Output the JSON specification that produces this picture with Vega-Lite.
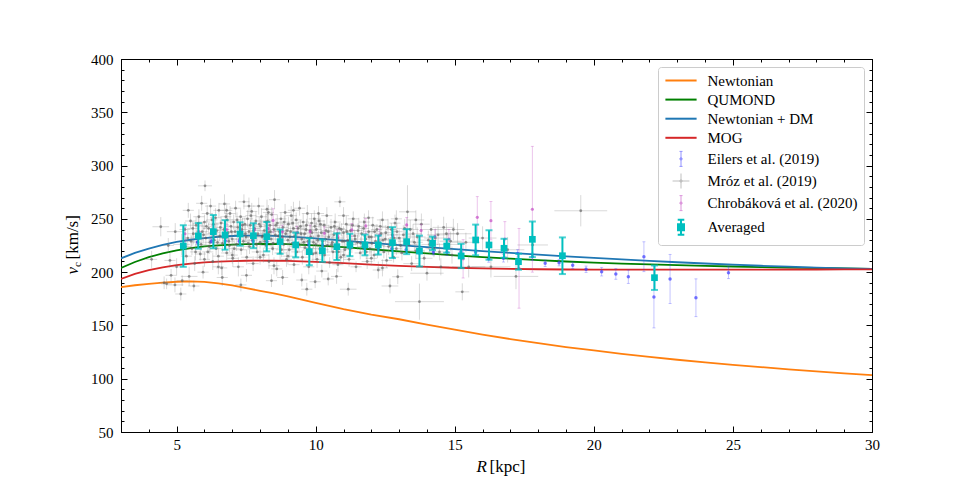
{
  "$schema": "https://vega.github.io/schema/vega-lite/v6.json",
  "width": 751,
  "height": 373,
  "autosize": {"type": "none"},
  "padding": {"left": 121, "top": 59, "right": 97, "bottom": 53},
  "background": "white",
  "datasets": {
    "curves": [
      {"series": "Newtonian", "R": 3, "v": 186}, {"series": "Newtonian", "R": 3.5, "v": 187.7}, {"series": "Newtonian", "R": 4, "v": 189}, {"series": "Newtonian", "R": 4.5, "v": 190.2}, {"series": "Newtonian", "R": 5, "v": 191}, {"series": "Newtonian", "R": 5.5, "v": 191.3}, {"series": "Newtonian", "R": 6, "v": 190.8}, {"series": "Newtonian", "R": 6.5, "v": 189.5}, {"series": "Newtonian", "R": 7, "v": 187.5}, {"series": "Newtonian", "R": 7.5, "v": 185}, {"series": "Newtonian", "R": 8, "v": 182.5}, {"series": "Newtonian", "R": 8.5, "v": 180}, {"series": "Newtonian", "R": 9, "v": 177.3}, {"series": "Newtonian", "R": 9.5, "v": 174.3}, {"series": "Newtonian", "R": 10, "v": 171.2}, {"series": "Newtonian", "R": 11, "v": 165.3}, {"series": "Newtonian", "R": 12, "v": 160.2}, {"series": "Newtonian", "R": 13, "v": 155.8}, {"series": "Newtonian", "R": 14, "v": 150.8}, {"series": "Newtonian", "R": 15, "v": 146}, {"series": "Newtonian", "R": 16, "v": 141.4}, {"series": "Newtonian", "R": 17, "v": 137.2}, {"series": "Newtonian", "R": 18, "v": 133.3}, {"series": "Newtonian", "R": 19, "v": 129.7}, {"series": "Newtonian", "R": 20, "v": 126.5}, {"series": "Newtonian", "R": 21, "v": 123.4}, {"series": "Newtonian", "R": 22, "v": 120.5}, {"series": "Newtonian", "R": 23, "v": 117.8}, {"series": "Newtonian", "R": 24, "v": 115.3}, {"series": "Newtonian", "R": 25, "v": 113}, {"series": "Newtonian", "R": 26, "v": 110.9}, {"series": "Newtonian", "R": 27, "v": 108.8}, {"series": "Newtonian", "R": 28, "v": 106.9}, {"series": "Newtonian", "R": 29, "v": 105.1}, {"series": "Newtonian", "R": 30, "v": 103.3},
      {"series": "QUMOND", "R": 3, "v": 204}, {"series": "QUMOND", "R": 3.5, "v": 209.5}, {"series": "QUMOND", "R": 4, "v": 214}, {"series": "QUMOND", "R": 4.5, "v": 217.6}, {"series": "QUMOND", "R": 5, "v": 220.5}, {"series": "QUMOND", "R": 5.5, "v": 222.6}, {"series": "QUMOND", "R": 6, "v": 224.1}, {"series": "QUMOND", "R": 6.5, "v": 225.1}, {"series": "QUMOND", "R": 7, "v": 225.8}, {"series": "QUMOND", "R": 7.5, "v": 226.2}, {"series": "QUMOND", "R": 8, "v": 226.4}, {"series": "QUMOND", "R": 8.5, "v": 226.4}, {"series": "QUMOND", "R": 9, "v": 226.2}, {"series": "QUMOND", "R": 9.5, "v": 225.7}, {"series": "QUMOND", "R": 10, "v": 225.1}, {"series": "QUMOND", "R": 11, "v": 223.4}, {"series": "QUMOND", "R": 12, "v": 221.5}, {"series": "QUMOND", "R": 13, "v": 219.5}, {"series": "QUMOND", "R": 14, "v": 217.6}, {"series": "QUMOND", "R": 15, "v": 215.8}, {"series": "QUMOND", "R": 16, "v": 214.1}, {"series": "QUMOND", "R": 17, "v": 212.6}, {"series": "QUMOND", "R": 18, "v": 211.2}, {"series": "QUMOND", "R": 19, "v": 210}, {"series": "QUMOND", "R": 20, "v": 208.9}, {"series": "QUMOND", "R": 21, "v": 208}, {"series": "QUMOND", "R": 22, "v": 207.2}, {"series": "QUMOND", "R": 23, "v": 206.5}, {"series": "QUMOND", "R": 24, "v": 205.9}, {"series": "QUMOND", "R": 25, "v": 205.3}, {"series": "QUMOND", "R": 26, "v": 204.8}, {"series": "QUMOND", "R": 27, "v": 204.3}, {"series": "QUMOND", "R": 28, "v": 203.9}, {"series": "QUMOND", "R": 29, "v": 203.5}, {"series": "QUMOND", "R": 30, "v": 203.1},
      {"series": "Newtonian + DM", "R": 3, "v": 213}, {"series": "Newtonian + DM", "R": 3.5, "v": 218}, {"series": "Newtonian + DM", "R": 4, "v": 222}, {"series": "Newtonian + DM", "R": 4.5, "v": 225.5}, {"series": "Newtonian + DM", "R": 5, "v": 228.3}, {"series": "Newtonian + DM", "R": 5.5, "v": 230.4}, {"series": "Newtonian + DM", "R": 6, "v": 232}, {"series": "Newtonian + DM", "R": 6.5, "v": 233.2}, {"series": "Newtonian + DM", "R": 7, "v": 233.9}, {"series": "Newtonian + DM", "R": 7.5, "v": 234.3}, {"series": "Newtonian + DM", "R": 8, "v": 234.3}, {"series": "Newtonian + DM", "R": 8.5, "v": 234}, {"series": "Newtonian + DM", "R": 9, "v": 233.4}, {"series": "Newtonian + DM", "R": 9.5, "v": 232.6}, {"series": "Newtonian + DM", "R": 10, "v": 231.6}, {"series": "Newtonian + DM", "R": 11, "v": 229.5}, {"series": "Newtonian + DM", "R": 12, "v": 227.4}, {"series": "Newtonian + DM", "R": 13, "v": 225.4}, {"series": "Newtonian + DM", "R": 14, "v": 223.5}, {"series": "Newtonian + DM", "R": 15, "v": 221.6}, {"series": "Newtonian + DM", "R": 16, "v": 219.8}, {"series": "Newtonian + DM", "R": 17, "v": 218.1}, {"series": "Newtonian + DM", "R": 18, "v": 216.4}, {"series": "Newtonian + DM", "R": 19, "v": 214.8}, {"series": "Newtonian + DM", "R": 20, "v": 213.3}, {"series": "Newtonian + DM", "R": 21, "v": 211.9}, {"series": "Newtonian + DM", "R": 22, "v": 210.6}, {"series": "Newtonian + DM", "R": 23, "v": 209.3}, {"series": "Newtonian + DM", "R": 24, "v": 208.1}, {"series": "Newtonian + DM", "R": 25, "v": 207}, {"series": "Newtonian + DM", "R": 26, "v": 206}, {"series": "Newtonian + DM", "R": 27, "v": 205.1}, {"series": "Newtonian + DM", "R": 28, "v": 204.3}, {"series": "Newtonian + DM", "R": 29, "v": 203.6}, {"series": "Newtonian + DM", "R": 30, "v": 203},
      {"series": "MOG", "R": 3, "v": 193.6}, {"series": "MOG", "R": 3.5, "v": 198.3}, {"series": "MOG", "R": 4, "v": 201.8}, {"series": "MOG", "R": 4.5, "v": 204.5}, {"series": "MOG", "R": 5, "v": 206.5}, {"series": "MOG", "R": 5.5, "v": 208}, {"series": "MOG", "R": 6, "v": 209.1}, {"series": "MOG", "R": 6.5, "v": 209.9}, {"series": "MOG", "R": 7, "v": 210.4}, {"series": "MOG", "R": 7.5, "v": 210.7}, {"series": "MOG", "R": 8, "v": 210.8}, {"series": "MOG", "R": 8.5, "v": 210.7}, {"series": "MOG", "R": 9, "v": 210.5}, {"series": "MOG", "R": 9.5, "v": 210.1}, {"series": "MOG", "R": 10, "v": 209.6}, {"series": "MOG", "R": 11, "v": 208.4}, {"series": "MOG", "R": 12, "v": 207.1}, {"series": "MOG", "R": 13, "v": 205.9}, {"series": "MOG", "R": 14, "v": 204.9}, {"series": "MOG", "R": 15, "v": 204.1}, {"series": "MOG", "R": 16, "v": 203.5}, {"series": "MOG", "R": 17, "v": 203}, {"series": "MOG", "R": 18, "v": 202.7}, {"series": "MOG", "R": 19, "v": 202.5}, {"series": "MOG", "R": 20, "v": 202.4}, {"series": "MOG", "R": 21, "v": 202.3}, {"series": "MOG", "R": 22, "v": 202.3}, {"series": "MOG", "R": 23, "v": 202.3}, {"series": "MOG", "R": 24, "v": 202.3}, {"series": "MOG", "R": 25, "v": 202.4}, {"series": "MOG", "R": 26, "v": 202.4}, {"series": "MOG", "R": 27, "v": 202.5}, {"series": "MOG", "R": 28, "v": 202.5}, {"series": "MOG", "R": 29, "v": 202.6}, {"series": "MOG", "R": 30, "v": 202.6}
    ],
    "mroz": [
      {"R": 4.1, "v": 212, "eR": 0.2, "ev": 8}, {"R": 4.43, "v": 242.6, "eR": 0.3, "ev": 9}, {"R": 4.55, "v": 190, "eR": 0.2, "ev": 6}, {"R": 4.64, "v": 189, "eR": 0.2, "ev": 5}, {"R": 4.7, "v": 225, "eR": 0.2, "ev": 7}, {"R": 4.76, "v": 211, "eR": 0.2, "ev": 7}, {"R": 4.8, "v": 197, "eR": 0.2, "ev": 6}, {"R": 4.94, "v": 188, "eR": 0.3, "ev": 7}, {"R": 4.95, "v": 238, "eR": 0.3, "ev": 8}, {"R": 5.0, "v": 205, "eR": 0.2, "ev": 8},
      {"R": 5.15, "v": 179.5, "eR": 0.2, "ev": 6}, {"R": 5.18, "v": 226, "eR": 0.3, "ev": 10}, {"R": 5.2, "v": 192, "eR": 0.2, "ev": 5}, {"R": 5.3, "v": 240, "eR": 0.2, "ev": 7}, {"R": 5.32, "v": 224, "eR": 0.2, "ev": 9}, {"R": 5.35, "v": 215, "eR": 0.2, "ev": 6}, {"R": 5.4, "v": 232, "eR": 0.2, "ev": 8}, {"R": 5.42, "v": 258, "eR": 0.2, "ev": 7}, {"R": 5.45, "v": 196, "eR": 0.3, "ev": 9}, {"R": 5.5, "v": 248, "eR": 0.2, "ev": 7},
      {"R": 5.55, "v": 222, "eR": 0.2, "ev": 6}, {"R": 5.6, "v": 236, "eR": 0.2, "ev": 10}, {"R": 5.62, "v": 187, "eR": 0.2, "ev": 5}, {"R": 5.65, "v": 208, "eR": 0.2, "ev": 7}, {"R": 5.7, "v": 244, "eR": 0.3, "ev": 8}, {"R": 5.75, "v": 228, "eR": 0.2, "ev": 6}, {"R": 5.8, "v": 252, "eR": 0.2, "ev": 7}, {"R": 5.85, "v": 217, "eR": 0.2, "ev": 6}, {"R": 5.9, "v": 264.6, "eR": 0.2, "ev": 7}, {"R": 5.92, "v": 238, "eR": 0.2, "ev": 9},
      {"R": 5.95, "v": 200, "eR": 0.2, "ev": 6}, {"R": 6.0, "v": 247, "eR": 0.2, "ev": 7}, {"R": 6.02, "v": 281, "eR": 0.25, "ev": 5}, {"R": 6.05, "v": 232, "eR": 0.2, "ev": 6}, {"R": 6.1, "v": 255, "eR": 0.2, "ev": 8}, {"R": 6.12, "v": 219, "eR": 0.2, "ev": 7}, {"R": 6.15, "v": 241, "eR": 0.2, "ev": 5}, {"R": 6.2, "v": 228, "eR": 0.2, "ev": 9}, {"R": 6.22, "v": 262, "eR": 0.2, "ev": 7}, {"R": 6.25, "v": 236, "eR": 0.2, "ev": 6},
      {"R": 6.3, "v": 210, "eR": 0.2, "ev": 8}, {"R": 6.32, "v": 245, "eR": 0.2, "ev": 6}, {"R": 6.35, "v": 230, "eR": 0.2, "ev": 5}, {"R": 6.4, "v": 251, "eR": 0.2, "ev": 9}, {"R": 6.42, "v": 222, "eR": 0.2, "ev": 6}, {"R": 6.45, "v": 239, "eR": 0.2, "ev": 7}, {"R": 6.5, "v": 215, "eR": 0.2, "ev": 8}, {"R": 6.52, "v": 258, "eR": 0.2, "ev": 7}, {"R": 6.55, "v": 234, "eR": 0.2, "ev": 5}, {"R": 6.6, "v": 246, "eR": 0.2, "ev": 6},
      {"R": 6.62, "v": 204, "eR": 0.2, "ev": 7}, {"R": 6.64, "v": 195, "eR": 0.2, "ev": 8}, {"R": 6.65, "v": 227, "eR": 0.2, "ev": 8}, {"R": 6.7, "v": 240, "eR": 0.2, "ev": 6}, {"R": 6.72, "v": 264, "eR": 0.2, "ev": 9}, {"R": 6.75, "v": 232, "eR": 0.2, "ev": 5}, {"R": 6.8, "v": 218, "eR": 0.2, "ev": 7}, {"R": 6.82, "v": 249, "eR": 0.2, "ev": 6}, {"R": 6.85, "v": 237, "eR": 0.2, "ev": 8}, {"R": 6.9, "v": 225, "eR": 0.2, "ev": 6},
      {"R": 6.92, "v": 255, "eR": 0.2, "ev": 7}, {"R": 6.95, "v": 243, "eR": 0.2, "ev": 5}, {"R": 7.0, "v": 231, "eR": 0.2, "ev": 6}, {"R": 7.02, "v": 213, "eR": 0.2, "ev": 8}, {"R": 7.05, "v": 247, "eR": 0.2, "ev": 7}, {"R": 7.1, "v": 238, "eR": 0.2, "ev": 5}, {"R": 7.12, "v": 260, "eR": 0.2, "ev": 7}, {"R": 7.15, "v": 226, "eR": 0.2, "ev": 6}, {"R": 7.2, "v": 242, "eR": 0.2, "ev": 8}, {"R": 7.22, "v": 205, "eR": 0.2, "ev": 9},
      {"R": 7.25, "v": 235, "eR": 0.2, "ev": 6}, {"R": 7.3, "v": 252, "eR": 0.2, "ev": 7}, {"R": 7.31, "v": 188, "eR": 0.2, "ev": 6}, {"R": 7.32, "v": 221, "eR": 0.2, "ev": 5}, {"R": 7.35, "v": 240, "eR": 0.2, "ev": 6}, {"R": 7.4, "v": 229, "eR": 0.2, "ev": 8}, {"R": 7.42, "v": 266, "eR": 0.2, "ev": 7}, {"R": 7.45, "v": 245, "eR": 0.2, "ev": 6}, {"R": 7.5, "v": 233, "eR": 0.2, "ev": 5}, {"R": 7.51, "v": 197, "eR": 0.2, "ev": 6},
      {"R": 7.52, "v": 214, "eR": 0.2, "ev": 7}, {"R": 7.55, "v": 250, "eR": 0.2, "ev": 8}, {"R": 7.6, "v": 238, "eR": 0.2, "ev": 6}, {"R": 7.62, "v": 224, "eR": 0.2, "ev": 7}, {"R": 7.65, "v": 244, "eR": 0.2, "ev": 5}, {"R": 7.7, "v": 257, "eR": 0.2, "ev": 8}, {"R": 7.72, "v": 230, "eR": 0.2, "ev": 6}, {"R": 7.75, "v": 208, "eR": 0.2, "ev": 7}, {"R": 7.8, "v": 241, "eR": 0.2, "ev": 6}, {"R": 7.82, "v": 235, "eR": 0.2, "ev": 5},
      {"R": 7.85, "v": 248, "eR": 0.2, "ev": 9}, {"R": 7.9, "v": 219, "eR": 0.2, "ev": 7}, {"R": 7.92, "v": 236, "eR": 0.2, "ev": 6}, {"R": 7.95, "v": 262, "eR": 0.2, "ev": 8}, {"R": 8.0, "v": 228, "eR": 0.2, "ev": 6}, {"R": 8.02, "v": 243, "eR": 0.2, "ev": 7}, {"R": 8.05, "v": 252, "eR": 0.2, "ev": 8}, {"R": 8.1, "v": 234, "eR": 0.2, "ev": 5}, {"R": 8.12, "v": 216, "eR": 0.2, "ev": 7}, {"R": 8.15, "v": 239, "eR": 0.2, "ev": 6},
      {"R": 8.2, "v": 247, "eR": 0.2, "ev": 8}, {"R": 8.22, "v": 225, "eR": 0.2, "ev": 6}, {"R": 8.25, "v": 259, "eR": 0.2, "ev": 9}, {"R": 8.3, "v": 237, "eR": 0.2, "ev": 5}, {"R": 8.32, "v": 210, "eR": 0.2, "ev": 7}, {"R": 8.35, "v": 244, "eR": 0.2, "ev": 6}, {"R": 8.4, "v": 231, "eR": 0.2, "ev": 8}, {"R": 8.41, "v": 192, "eR": 0.2, "ev": 6}, {"R": 8.42, "v": 254, "eR": 0.2, "ev": 7}, {"R": 8.45, "v": 222, "eR": 0.2, "ev": 6},
      {"R": 8.5, "v": 240, "eR": 0.2, "ev": 5}, {"R": 8.52, "v": 268, "eR": 0.2, "ev": 9}, {"R": 8.55, "v": 235, "eR": 0.2, "ev": 6}, {"R": 8.6, "v": 203, "eR": 0.2, "ev": 7}, {"R": 8.62, "v": 246, "eR": 0.2, "ev": 8}, {"R": 8.65, "v": 228, "eR": 0.2, "ev": 6}, {"R": 8.7, "v": 238, "eR": 0.2, "ev": 5}, {"R": 8.72, "v": 218, "eR": 0.2, "ev": 7}, {"R": 8.75, "v": 250, "eR": 0.2, "ev": 6}, {"R": 8.8, "v": 233, "eR": 0.2, "ev": 8},
      {"R": 8.81, "v": 195, "eR": 0.2, "ev": 7}, {"R": 8.82, "v": 242, "eR": 0.2, "ev": 6}, {"R": 8.85, "v": 226, "eR": 0.2, "ev": 7}, {"R": 8.9, "v": 256, "eR": 0.2, "ev": 8}, {"R": 8.92, "v": 236, "eR": 0.2, "ev": 5}, {"R": 8.95, "v": 212, "eR": 0.2, "ev": 7}, {"R": 9.0, "v": 230, "eR": 0.2, "ev": 6}, {"R": 9.02, "v": 245, "eR": 0.2, "ev": 7}, {"R": 9.05, "v": 221, "eR": 0.2, "ev": 8}, {"R": 9.1, "v": 238, "eR": 0.2, "ev": 5},
      {"R": 9.12, "v": 253, "eR": 0.2, "ev": 9}, {"R": 9.15, "v": 227, "eR": 0.2, "ev": 6}, {"R": 9.2, "v": 241, "eR": 0.2, "ev": 7}, {"R": 9.22, "v": 207, "eR": 0.2, "ev": 8}, {"R": 9.25, "v": 234, "eR": 0.2, "ev": 6}, {"R": 9.3, "v": 249, "eR": 0.2, "ev": 7}, {"R": 9.32, "v": 219, "eR": 0.2, "ev": 5}, {"R": 9.35, "v": 237, "eR": 0.2, "ev": 6}, {"R": 9.4, "v": 226, "eR": 0.2, "ev": 8}, {"R": 9.42, "v": 260, "eR": 0.2, "ev": 7},
      {"R": 9.45, "v": 243, "eR": 0.2, "ev": 6}, {"R": 9.5, "v": 231, "eR": 0.2, "ev": 5}, {"R": 9.5, "v": 192.6, "eR": 0.2, "ev": 6}, {"R": 9.52, "v": 214, "eR": 0.2, "ev": 7}, {"R": 9.55, "v": 247, "eR": 0.2, "ev": 8}, {"R": 9.6, "v": 236, "eR": 0.2, "ev": 6}, {"R": 9.62, "v": 223, "eR": 0.2, "ev": 7}, {"R": 9.65, "v": 240, "eR": 0.2, "ev": 5}, {"R": 9.68, "v": 184, "eR": 0.2, "ev": 6}, {"R": 9.7, "v": 255, "eR": 0.2, "ev": 8},
      {"R": 9.72, "v": 229, "eR": 0.2, "ev": 6}, {"R": 9.75, "v": 205, "eR": 0.2, "ev": 7}, {"R": 9.8, "v": 239, "eR": 0.2, "ev": 6}, {"R": 9.82, "v": 233, "eR": 0.2, "ev": 5}, {"R": 9.85, "v": 246, "eR": 0.2, "ev": 9}, {"R": 9.9, "v": 217, "eR": 0.2, "ev": 7}, {"R": 9.92, "v": 228, "eR": 0.2, "ev": 6}, {"R": 9.95, "v": 250, "eR": 0.2, "ev": 8}, {"R": 9.98, "v": 191, "eR": 0.2, "ev": 6}, {"R": 10.0, "v": 226, "eR": 0.2, "ev": 6},
      {"R": 10.02, "v": 240, "eR": 0.2, "ev": 7}, {"R": 10.05, "v": 212, "eR": 0.2, "ev": 8}, {"R": 10.1, "v": 234, "eR": 0.2, "ev": 5}, {"R": 10.12, "v": 248, "eR": 0.2, "ev": 7}, {"R": 10.15, "v": 222, "eR": 0.2, "ev": 6}, {"R": 10.2, "v": 237, "eR": 0.2, "ev": 8}, {"R": 10.22, "v": 201, "eR": 0.2, "ev": 6}, {"R": 10.25, "v": 229, "eR": 0.2, "ev": 9}, {"R": 10.3, "v": 244, "eR": 0.2, "ev": 5}, {"R": 10.32, "v": 216, "eR": 0.2, "ev": 7},
      {"R": 10.35, "v": 231, "eR": 0.2, "ev": 6}, {"R": 10.4, "v": 253, "eR": 0.2, "ev": 8}, {"R": 10.42, "v": 225, "eR": 0.2, "ev": 7}, {"R": 10.45, "v": 238, "eR": 0.2, "ev": 6}, {"R": 10.45, "v": 193.6, "eR": 0.2, "ev": 6}, {"R": 10.5, "v": 209, "eR": 0.2, "ev": 5}, {"R": 10.55, "v": 242, "eR": 0.2, "ev": 8}, {"R": 10.6, "v": 228, "eR": 0.2, "ev": 6}, {"R": 10.62, "v": 219, "eR": 0.2, "ev": 7}, {"R": 10.65, "v": 235, "eR": 0.2, "ev": 5},
      {"R": 10.7, "v": 247, "eR": 0.2, "ev": 8}, {"R": 10.72, "v": 224, "eR": 0.2, "ev": 6}, {"R": 10.75, "v": 196, "eR": 0.2, "ev": 7}, {"R": 10.8, "v": 232, "eR": 0.2, "ev": 6}, {"R": 10.85, "v": 241, "eR": 0.2, "ev": 5}, {"R": 10.87, "v": 266, "eR": 0.2, "ev": 5}, {"R": 10.9, "v": 214, "eR": 0.2, "ev": 7}, {"R": 10.95, "v": 229, "eR": 0.2, "ev": 6}, {"R": 11.0, "v": 237, "eR": 0.2, "ev": 6}, {"R": 11.05, "v": 221, "eR": 0.2, "ev": 7},
      {"R": 11.1, "v": 245, "eR": 0.2, "ev": 8}, {"R": 11.15, "v": 230, "eR": 0.2, "ev": 5}, {"R": 11.17, "v": 184, "eR": 0.3, "ev": 6}, {"R": 11.2, "v": 212, "eR": 0.2, "ev": 7}, {"R": 11.25, "v": 239, "eR": 0.2, "ev": 6}, {"R": 11.3, "v": 226, "eR": 0.2, "ev": 8}, {"R": 11.35, "v": 250, "eR": 0.2, "ev": 7}, {"R": 11.4, "v": 234, "eR": 0.2, "ev": 6}, {"R": 11.45, "v": 205, "eR": 0.2, "ev": 5}, {"R": 11.5, "v": 228, "eR": 0.2, "ev": 7},
      {"R": 11.55, "v": 243, "eR": 0.2, "ev": 8}, {"R": 11.6, "v": 218, "eR": 0.2, "ev": 6}, {"R": 11.65, "v": 236, "eR": 0.2, "ev": 7}, {"R": 11.7, "v": 224, "eR": 0.2, "ev": 5}, {"R": 11.75, "v": 247, "eR": 0.2, "ev": 8}, {"R": 11.8, "v": 231, "eR": 0.2, "ev": 6}, {"R": 11.85, "v": 210, "eR": 0.2, "ev": 7}, {"R": 11.9, "v": 238, "eR": 0.2, "ev": 6}, {"R": 11.95, "v": 222, "eR": 0.2, "ev": 5}, {"R": 12.0, "v": 233, "eR": 0.2, "ev": 7},
      {"R": 12.05, "v": 244, "eR": 0.2, "ev": 8}, {"R": 12.1, "v": 216, "eR": 0.2, "ev": 6}, {"R": 12.15, "v": 229, "eR": 0.2, "ev": 7}, {"R": 12.2, "v": 240, "eR": 0.2, "ev": 5}, {"R": 12.25, "v": 202, "eR": 0.2, "ev": 8}, {"R": 12.3, "v": 225, "eR": 0.2, "ev": 6}, {"R": 12.35, "v": 236, "eR": 0.2, "ev": 7}, {"R": 12.4, "v": 249, "eR": 0.2, "ev": 8}, {"R": 12.45, "v": 219, "eR": 0.2, "ev": 6}, {"R": 12.5, "v": 231, "eR": 0.2, "ev": 5},
      {"R": 12.55, "v": 211, "eR": 0.2, "ev": 7}, {"R": 12.6, "v": 242, "eR": 0.2, "ev": 8}, {"R": 12.67, "v": 187, "eR": 0.3, "ev": 7}, {"R": 12.7, "v": 227, "eR": 0.2, "ev": 6}, {"R": 12.75, "v": 235, "eR": 0.2, "ev": 7}, {"R": 12.8, "v": 214, "eR": 0.2, "ev": 5}, {"R": 12.85, "v": 246, "eR": 0.2, "ev": 8}, {"R": 12.9, "v": 222, "eR": 0.2, "ev": 6}, {"R": 12.95, "v": 195.7, "eR": 0.2, "ev": 7}, {"R": 13.0, "v": 232, "eR": 0.3, "ev": 8},
      {"R": 13.1, "v": 218, "eR": 0.3, "ev": 7}, {"R": 13.2, "v": 241, "eR": 0.3, "ev": 9}, {"R": 13.3, "v": 256.6, "eR": 0.3, "ev": 25}, {"R": 13.35, "v": 226, "eR": 0.3, "ev": 8}, {"R": 13.45, "v": 208, "eR": 0.3, "ev": 7}, {"R": 13.5, "v": 236, "eR": 0.3, "ev": 9}, {"R": 13.6, "v": 220, "eR": 0.3, "ev": 8}, {"R": 13.73, "v": 172.3, "eR": 0.88, "ev": 17}, {"R": 13.8, "v": 245, "eR": 0.3, "ev": 10}, {"R": 13.9, "v": 213, "eR": 0.3, "ev": 8},
      {"R": 14.0, "v": 199, "eR": 0.6, "ev": 7}, {"R": 14.05, "v": 230, "eR": 0.3, "ev": 9}, {"R": 14.15, "v": 240, "eR": 0.4, "ev": 10}, {"R": 14.25, "v": 222, "eR": 0.3, "ev": 8}, {"R": 14.4, "v": 235, "eR": 0.4, "ev": 9}, {"R": 14.5, "v": 205, "eR": 0.3, "ev": 8}, {"R": 14.6, "v": 242, "eR": 0.4, "ev": 10}, {"R": 14.75, "v": 226, "eR": 0.4, "ev": 9}, {"R": 14.9, "v": 216, "eR": 0.4, "ev": 8}, {"R": 15.1, "v": 236, "eR": 0.5, "ev": 10},
      {"R": 15.27, "v": 181.5, "eR": 0.25, "ev": 8}, {"R": 15.4, "v": 228, "eR": 0.5, "ev": 9}, {"R": 15.5, "v": 205, "eR": 0.6, "ev": 10}, {"R": 16.0, "v": 232, "eR": 0.5, "ev": 11}, {"R": 16.3, "v": 205, "eR": 0.7, "ev": 10}, {"R": 16.9, "v": 221, "eR": 0.6, "ev": 12}, {"R": 17.2, "v": 196, "eR": 0.8, "ev": 12}, {"R": 17.8, "v": 225.5, "eR": 0.55, "ev": 10}, {"R": 19.53, "v": 257.6, "eR": 0.95, "ev": 14.7},
      {"R": 5.52, "v": 229, "eR": 0.2, "ev": 6}, {"R": 5.58, "v": 241, "eR": 0.2, "ev": 7}, {"R": 5.68, "v": 219, "eR": 0.2, "ev": 8}, {"R": 5.72, "v": 233, "eR": 0.2, "ev": 6}, {"R": 5.78, "v": 246, "eR": 0.2, "ev": 7}, {"R": 5.88, "v": 226, "eR": 0.2, "ev": 6}, {"R": 5.97, "v": 235, "eR": 0.2, "ev": 8}, {"R": 6.07, "v": 243, "eR": 0.2, "ev": 6}, {"R": 6.17, "v": 224, "eR": 0.2, "ev": 7}, {"R": 6.27, "v": 249, "eR": 0.2, "ev": 6},
      {"R": 6.37, "v": 237, "eR": 0.2, "ev": 8}, {"R": 6.47, "v": 228, "eR": 0.2, "ev": 6}, {"R": 6.57, "v": 242, "eR": 0.2, "ev": 7}, {"R": 6.67, "v": 233, "eR": 0.2, "ev": 6}, {"R": 6.77, "v": 252, "eR": 0.2, "ev": 8}, {"R": 6.87, "v": 229, "eR": 0.2, "ev": 7}, {"R": 6.97, "v": 238, "eR": 0.2, "ev": 6}, {"R": 7.07, "v": 222, "eR": 0.2, "ev": 8}, {"R": 7.17, "v": 249, "eR": 0.2, "ev": 7}, {"R": 7.27, "v": 231, "eR": 0.2, "ev": 6},
      {"R": 7.37, "v": 244, "eR": 0.2, "ev": 7}, {"R": 7.47, "v": 236, "eR": 0.2, "ev": 8}, {"R": 7.57, "v": 227, "eR": 0.2, "ev": 6}, {"R": 7.67, "v": 253, "eR": 0.2, "ev": 7}, {"R": 7.77, "v": 239, "eR": 0.2, "ev": 6}, {"R": 7.87, "v": 226, "eR": 0.2, "ev": 8}, {"R": 7.97, "v": 245, "eR": 0.2, "ev": 7}, {"R": 8.07, "v": 233, "eR": 0.2, "ev": 6}, {"R": 8.17, "v": 229, "eR": 0.2, "ev": 7}, {"R": 8.27, "v": 248, "eR": 0.2, "ev": 8},
      {"R": 8.37, "v": 238, "eR": 0.2, "ev": 6}, {"R": 8.47, "v": 227, "eR": 0.2, "ev": 7}, {"R": 8.57, "v": 244, "eR": 0.2, "ev": 6}, {"R": 8.67, "v": 234, "eR": 0.2, "ev": 8}, {"R": 8.77, "v": 221, "eR": 0.2, "ev": 7}, {"R": 8.87, "v": 247, "eR": 0.2, "ev": 6}, {"R": 8.97, "v": 239, "eR": 0.2, "ev": 7}, {"R": 9.07, "v": 233, "eR": 0.2, "ev": 6}, {"R": 9.17, "v": 246, "eR": 0.2, "ev": 8}, {"R": 9.27, "v": 224, "eR": 0.2, "ev": 7},
      {"R": 9.37, "v": 241, "eR": 0.2, "ev": 6}, {"R": 9.47, "v": 236, "eR": 0.2, "ev": 7}, {"R": 9.57, "v": 228, "eR": 0.2, "ev": 8}, {"R": 9.67, "v": 244, "eR": 0.2, "ev": 6}, {"R": 9.77, "v": 222, "eR": 0.2, "ev": 7}, {"R": 9.87, "v": 237, "eR": 0.2, "ev": 6}, {"R": 9.97, "v": 243, "eR": 0.2, "ev": 8}, {"R": 10.07, "v": 230, "eR": 0.2, "ev": 7}, {"R": 10.17, "v": 245, "eR": 0.2, "ev": 6}, {"R": 10.27, "v": 221, "eR": 0.2, "ev": 7},
      {"R": 10.37, "v": 239, "eR": 0.2, "ev": 6}, {"R": 10.47, "v": 233, "eR": 0.2, "ev": 8}, {"R": 10.57, "v": 226, "eR": 0.2, "ev": 7}, {"R": 10.67, "v": 243, "eR": 0.2, "ev": 6}, {"R": 10.77, "v": 236, "eR": 0.2, "ev": 7}, {"R": 10.82, "v": 219, "eR": 0.2, "ev": 8}, {"R": 10.92, "v": 240, "eR": 0.2, "ev": 6}, {"R": 11.02, "v": 229, "eR": 0.2, "ev": 7}, {"R": 11.12, "v": 238, "eR": 0.2, "ev": 6}, {"R": 11.22, "v": 222, "eR": 0.2, "ev": 8},
      {"R": 11.32, "v": 244, "eR": 0.2, "ev": 7}, {"R": 11.42, "v": 231, "eR": 0.2, "ev": 6}, {"R": 11.52, "v": 239, "eR": 0.2, "ev": 7}, {"R": 11.62, "v": 227, "eR": 0.2, "ev": 6}, {"R": 11.72, "v": 241, "eR": 0.2, "ev": 8}, {"R": 11.82, "v": 219, "eR": 0.2, "ev": 7}, {"R": 11.92, "v": 233, "eR": 0.2, "ev": 6}, {"R": 12.02, "v": 227, "eR": 0.2, "ev": 7}, {"R": 12.12, "v": 238, "eR": 0.2, "ev": 6}, {"R": 12.22, "v": 221, "eR": 0.2, "ev": 8},
      {"R": 12.32, "v": 243, "eR": 0.2, "ev": 7}, {"R": 12.42, "v": 230, "eR": 0.2, "ev": 6}, {"R": 12.52, "v": 237, "eR": 0.2, "ev": 7}, {"R": 12.62, "v": 224, "eR": 0.2, "ev": 8}, {"R": 12.72, "v": 240, "eR": 0.2, "ev": 6}, {"R": 12.82, "v": 232, "eR": 0.2, "ev": 7}, {"R": 12.92, "v": 238, "eR": 0.2, "ev": 8}, {"R": 13.05, "v": 225, "eR": 0.3, "ev": 8}, {"R": 13.15, "v": 235, "eR": 0.3, "ev": 9}, {"R": 13.25, "v": 229, "eR": 0.3, "ev": 8},
      {"R": 13.4, "v": 240, "eR": 0.3, "ev": 9}, {"R": 13.55, "v": 228, "eR": 0.3, "ev": 8}, {"R": 13.65, "v": 233, "eR": 0.3, "ev": 9}, {"R": 14.1, "v": 226, "eR": 0.3, "ev": 9}, {"R": 14.3, "v": 232, "eR": 0.4, "ev": 9}, {"R": 14.45, "v": 219, "eR": 0.4, "ev": 8}, {"R": 14.7, "v": 236, "eR": 0.4, "ev": 10}, {"R": 14.85, "v": 229, "eR": 0.4, "ev": 9}, {"R": 14.95, "v": 240, "eR": 0.4, "ev": 10},
      {"R": 6.0, "v": 212, "eR": 0.2, "ev": 7}, {"R": 7.0, "v": 216, "eR": 0.2, "ev": 8}, {"R": 8.0, "v": 214, "eR": 0.2, "ev": 7}, {"R": 9.0, "v": 215, "eR": 0.2, "ev": 8}, {"R": 10.0, "v": 218, "eR": 0.2, "ev": 7}, {"R": 11.0, "v": 216, "eR": 0.2, "ev": 8}, {"R": 12.0, "v": 213, "eR": 0.2, "ev": 7}, {"R": 6.5, "v": 205, "eR": 0.2, "ev": 7}, {"R": 8.5, "v": 206, "eR": 0.2, "ev": 8}, {"R": 10.8, "v": 207, "eR": 0.2, "ev": 7}, {"R": 12.4, "v": 204, "eR": 0.2, "ev": 8},
      {"R": 6.8, "v": 258, "eR": 0.2, "ev": 7}, {"R": 7.6, "v": 262, "eR": 0.2, "ev": 8}, {"R": 8.3, "v": 256, "eR": 0.2, "ev": 7}, {"R": 9.2, "v": 258, "eR": 0.2, "ev": 8}, {"R": 10.1, "v": 255, "eR": 0.2, "ev": 7}, {"R": 11.0, "v": 253, "eR": 0.2, "ev": 8}, {"R": 11.9, "v": 251, "eR": 0.2, "ev": 7}, {"R": 12.9, "v": 250, "eR": 0.2, "ev": 8}, {"R": 13.6, "v": 249, "eR": 0.3, "ev": 9}
    ],
    "eilers": [
      {"R": 5.27, "v": 226, "ev": 3}, {"R": 5.75, "v": 228, "ev": 2.5}, {"R": 6.25, "v": 229, "ev": 2}, {"R": 6.75, "v": 229.5, "ev": 2}, {"R": 7.25, "v": 229, "ev": 2}, {"R": 7.75, "v": 229, "ev": 2}, {"R": 8.25, "v": 228.5, "ev": 2}, {"R": 8.75, "v": 228, "ev": 2}, {"R": 9.25, "v": 227, "ev": 2}, {"R": 9.75, "v": 226, "ev": 2}, {"R": 10.25, "v": 225, "ev": 2}, {"R": 10.75, "v": 224, "ev": 2}, {"R": 11.25, "v": 223.5, "ev": 2}, {"R": 11.75, "v": 223, "ev": 2}, {"R": 12.25, "v": 222.5, "ev": 2}, {"R": 12.74, "v": 222, "ev": 2.5}, {"R": 13.25, "v": 221, "ev": 2.5}, {"R": 13.72, "v": 219, "ev": 2.5}, {"R": 14.23, "v": 218.6, "ev": 2.5}, {"R": 14.72, "v": 218.6, "ev": 3}, {"R": 15.22, "v": 219, "ev": 3}, {"R": 15.75, "v": 218.6, "ev": 3}, {"R": 16.22, "v": 212.3, "ev": 3}, {"R": 16.75, "v": 213, "ev": 3.5}, {"R": 17.26, "v": 217.6, "ev": 3.5}, {"R": 17.79, "v": 214.5, "ev": 3.5}, {"R": 18.25, "v": 208.3, "ev": 3}, {"R": 18.75, "v": 208.9, "ev": 3}, {"R": 19.24, "v": 206.4, "ev": 3}, {"R": 19.72, "v": 202.7, "ev": 3}, {"R": 20.28, "v": 200.4, "ev": 4}, {"R": 20.79, "v": 198.3, "ev": 5}, {"R": 21.24, "v": 195.7, "ev": 6.3}, {"R": 21.8, "v": 214.5, "ev": 14}, {"R": 22.16, "v": 176.7, "ev": 29}, {"R": 22.74, "v": 193.6, "ev": 23}, {"R": 23.67, "v": 176, "ev": 17.7}, {"R": 24.84, "v": 199.5, "ev": 5.5}
    ],
    "chrob": [
      {"R": 5.3, "v": 236, "ev": 6}, {"R": 5.8, "v": 238, "ev": 5}, {"R": 6.3, "v": 239, "ev": 5}, {"R": 6.8, "v": 240, "ev": 5}, {"R": 7.3, "v": 239, "ev": 5}, {"R": 7.8, "v": 240, "ev": 6}, {"R": 8.3, "v": 241, "ev": 6}, {"R": 8.47, "v": 248.5, "ev": 11}, {"R": 8.8, "v": 238, "ev": 6}, {"R": 9.32, "v": 237, "ev": 6}, {"R": 9.8, "v": 238, "ev": 6}, {"R": 10.31, "v": 236.5, "ev": 6}, {"R": 10.79, "v": 233.6, "ev": 6}, {"R": 11.3, "v": 239.6, "ev": 6}, {"R": 11.8, "v": 243.4, "ev": 7}, {"R": 12.29, "v": 234.5, "ev": 6}, {"R": 12.77, "v": 234, "ev": 6}, {"R": 13.27, "v": 244.3, "ev": 7}, {"R": 13.79, "v": 239.1, "ev": 5.8}, {"R": 14.29, "v": 233.5, "ev": 6.3}, {"R": 14.79, "v": 231, "ev": 9}, {"R": 15.3, "v": 212.5, "ev": 18}, {"R": 15.81, "v": 251.4, "ev": 19.5}, {"R": 16.3, "v": 248.3, "ev": 18}, {"R": 16.8, "v": 231, "ev": 16.4}, {"R": 17.31, "v": 203.6, "ev": 37.4}, {"R": 17.79, "v": 259, "ev": 59}
    ],
    "avg": [
      {"R": 5.24, "v": 224.5, "ev": 19.5}, {"R": 5.78, "v": 234, "ev": 12}, {"R": 6.32, "v": 238, "ev": 15.6}, {"R": 6.74, "v": 234.9, "ev": 13.8}, {"R": 7.28, "v": 235.8, "ev": 11}, {"R": 7.76, "v": 234.2, "ev": 11.7}, {"R": 8.24, "v": 233.3, "ev": 13.8}, {"R": 8.72, "v": 228.6, "ev": 11.4}, {"R": 9.28, "v": 225.5, "ev": 11.6}, {"R": 9.77, "v": 219.2, "ev": 12.7}, {"R": 10.24, "v": 220.1, "ev": 10.5}, {"R": 10.76, "v": 223.9, "ev": 12.5}, {"R": 11.23, "v": 225.5, "ev": 10.5}, {"R": 11.77, "v": 225.5, "ev": 9.7}, {"R": 12.25, "v": 225.5, "ev": 9}, {"R": 12.76, "v": 227.7, "ev": 14.5}, {"R": 13.27, "v": 228.6, "ev": 11.7}, {"R": 13.73, "v": 219.8, "ev": 14.5}, {"R": 14.2, "v": 227, "ev": 6.3}, {"R": 14.71, "v": 224.5, "ev": 6.3}, {"R": 15.23, "v": 215.2, "ev": 11.4}, {"R": 15.75, "v": 230.2, "ev": 14.4}, {"R": 16.23, "v": 225.5, "ev": 13.8}, {"R": 16.77, "v": 222.4, "ev": 8.9}, {"R": 17.29, "v": 209.8, "ev": 7.5}, {"R": 17.79, "v": 230.8, "ev": 16.7}, {"R": 18.87, "v": 215.4, "ev": 17.2}, {"R": 22.18, "v": 194.8, "ev": 11.5}
    ]
  },
  "layer": [
    {
      "data": {"name": "curves"},
      "transform": [{"filter": "datum.series === 'Newtonian' || datum.series === 'QUMOND'"}],
      "mark": {"type": "line", "strokeWidth": 1.8, "clip": true},
      "encoding": {
        "x": {"field": "R", "type": "quantitative", "scale": {"domain": [3, 30], "nice": false, "zero": false},
          "axis": {"orient": "bottom", "values": [5, 10, 15, 20, 25, 30], "tickSize": -6, "labelPadding": 11, "title": "R", "titleFontStyle": "italic", "titleX": 355, "titleY": 39, "titleAlign": "left", "titleBaseline": "alphabetic", "titleAngle": 0}},
        "y": {"field": "v", "type": "quantitative", "scale": {"domain": [50, 400], "nice": false, "zero": false},
          "axis": {"orient": "left", "values": [50, 100, 150, 200, 250, 300, 350, 400], "tickSize": -6, "labelPadding": 14, "title": "[km/s]", "titleAngle": 270, "titleX": -43.5, "titleY": 200, "titleAlign": "left", "titleBaseline": "alphabetic"}},
        "color": {
          "field": "series", "type": "nominal",
          "scale": {
            "domain": ["Newtonian", "QUMOND", "Newtonian + DM", "MOG", "Eilers et al. (2019)", "Mróz et al. (2019)", "Chrobáková et al. (2020)", "Averaged"],
            "range": ["#ff7f0e", "#008000", "#1f77b4", "#d62728", "#3a3aff", "#8c8c8c", "#c040c0", "#00bfbf"]
          },
          "legend": {
            "title": null,
            "encode": {
              "symbols": {
                "update": {
                  "shape": {"signal": "datum.value === 'Averaged' ? 'M0,-1.25V1.25M-0.55,-1.25H0.55M-0.55,1.25H0.55M-0.5,-0.5H0.5V0.5H-0.5Z' : datum.value === 'Mróz et al. (2019)' ? 'M-1.4,0H1.4M0,-1.25V1.25M-0.2,0A0.2,0.2 0 1,0 0.2,0A0.2,0.2 0 1,0 -0.2,0Z' : (datum.value === 'Eilers et al. (2019)' || datum.value === 'Chrobáková et al. (2020)') ? 'M0,-1.25V1.25M-0.25,-1.25H0.25M-0.25,1.25H0.25M-0.2,0A0.2,0.2 0 1,0 0.2,0A0.2,0.2 0 1,0 -0.2,0Z' : 'M-2.6,0H2.6'"},
                  "fill": {"scale": "color", "field": "value"},
                  "stroke": {"scale": "color", "field": "value"},
                  "strokeWidth": {"signal": "indexof(['Eilers et al. (2019)','Mróz et al. (2019)','Chrobáková et al. (2020)'], datum.value) >= 0 ? 1 : 2"},
                  "opacity": {"signal": "indexof(['Eilers et al. (2019)','Mróz et al. (2019)','Chrobáková et al. (2020)'], datum.value) >= 0 ? 0.55 : 1"}
                }
              }
            }
          }
        }
      }
    },
    {
      "data": {"name": "curves"},
      "transform": [{"filter": "datum.series === 'Newtonian + DM' || datum.series === 'MOG'"}],
      "mark": {"type": "line", "strokeWidth": 1.8, "clip": true},
      "encoding": {
        "x": {"field": "R", "type": "quantitative", "scale": {"domain": [3, 30], "nice": false, "zero": false},
          "axis": {"orient": "bottom", "values": [3, 4, 5, 6, 7, 8, 9, 10, 11, 12, 13, 14, 15, 16, 17, 18, 19, 20, 21, 22, 23, 24, 25, 26, 27, 28, 29, 30], "tickSize": -3, "labels": false, "title": "[kpc]", "titleX": 368, "titleY": 39, "titleAlign": "left", "titleBaseline": "alphabetic", "titleAngle": 0}},
        "y": {"field": "v", "type": "quantitative", "scale": {"domain": [50, 400], "nice": false, "zero": false},
          "axis": {"orient": "left", "values": [50, 60, 70, 80, 90, 100, 110, 120, 130, 140, 150, 160, 170, 180, 190, 200, 210, 220, 230, 240, 250, 260, 270, 280, 290, 300, 310, 320, 330, 340, 350, 360, 370, 380, 390, 400], "tickSize": -3, "labels": false, "title": "v", "titleFontStyle": "italic", "titleAngle": 270, "titleX": -43.5, "titleY": 215, "titleAlign": "left", "titleBaseline": "alphabetic"}},
        "color": {"field": "series", "type": "nominal"}
      }
    },
    {
      "data": {"name": "mroz"},
      "mark": {"type": "errorbar", "ticks": false, "color": "#808080", "opacity": 0.3, "thickness": 1, "clip": true},
      "encoding": {
        "x": {"field": "R", "type": "quantitative", "scale": {"domain": [3, 30], "nice": false, "zero": false}, "axis": null},
        "xError": {"field": "eR"},
        "y": {"field": "v", "type": "quantitative", "scale": {"domain": [50, 400], "nice": false, "zero": false}, "axis": null}
      }
    },
    {
      "data": {"name": "mroz"},
      "mark": {"type": "errorbar", "ticks": false, "color": "#808080", "opacity": 0.3, "thickness": 1, "clip": true},
      "encoding": {
        "x": {"field": "R", "type": "quantitative", "scale": {"domain": [3, 30], "nice": false, "zero": false}, "axis": null},
        "y": {"field": "v", "type": "quantitative", "scale": {"domain": [50, 400], "nice": false, "zero": false}, "axis": null},
        "yError": {"field": "ev"}
      }
    },
    {
      "data": {"name": "mroz"},
      "mark": {"type": "point", "filled": true, "shape": "circle", "size": 8, "color": "#5a5a5a", "opacity": 0.6, "clip": true},
      "encoding": {
        "x": {"field": "R", "type": "quantitative", "scale": {"domain": [3, 30], "nice": false, "zero": false},
          "axis": {"orient": "top", "values": [5, 10, 15, 20, 25, 30], "tickSize": -6, "labels": false, "title": null}},
        "y": {"field": "v", "type": "quantitative", "scale": {"domain": [50, 400], "nice": false, "zero": false},
          "axis": {"orient": "right", "values": [50, 100, 150, 200, 250, 300, 350, 400], "tickSize": -6, "labels": false, "title": null}}
      }
    },
    {
      "data": {"name": "eilers"},
      "mark": {"type": "errorbar", "ticks": true, "size": 3, "thickness": 1, "color": "#3a3aff", "opacity": 0.3, "clip": true},
      "encoding": {
        "x": {"field": "R", "type": "quantitative", "scale": {"domain": [3, 30], "nice": false, "zero": false}, "axis": null},
        "y": {"field": "v", "type": "quantitative", "scale": {"domain": [50, 400], "nice": false, "zero": false}, "axis": null},
        "yError": {"field": "ev"}
      }
    },
    {
      "data": {"name": "eilers"},
      "mark": {"type": "point", "filled": true, "shape": "circle", "size": 12, "color": "#3a3aff", "opacity": 0.7, "clip": true},
      "encoding": {
        "x": {"field": "R", "type": "quantitative", "scale": {"domain": [3, 30], "nice": false, "zero": false},
          "axis": {"orient": "top", "values": [3, 4, 5, 6, 7, 8, 9, 10, 11, 12, 13, 14, 15, 16, 17, 18, 19, 20, 21, 22, 23, 24, 25, 26, 27, 28, 29, 30], "tickSize": -3, "labels": false, "title": null}},
        "y": {"field": "v", "type": "quantitative", "scale": {"domain": [50, 400], "nice": false, "zero": false},
          "axis": {"orient": "right", "values": [50, 60, 70, 80, 90, 100, 110, 120, 130, 140, 150, 160, 170, 180, 190, 200, 210, 220, 230, 240, 250, 260, 270, 280, 290, 300, 310, 320, 330, 340, 350, 360, 370, 380, 390, 400], "tickSize": -3, "labels": false, "title": null}}
      }
    },
    {
      "data": {"name": "chrob"},
      "mark": {"type": "errorbar", "ticks": true, "size": 3, "thickness": 1, "color": "#c040c0", "opacity": 0.3, "clip": true},
      "encoding": {
        "x": {"field": "R", "type": "quantitative", "scale": {"domain": [3, 30], "nice": false, "zero": false}, "axis": null},
        "y": {"field": "v", "type": "quantitative", "scale": {"domain": [50, 400], "nice": false, "zero": false}, "axis": null},
        "yError": {"field": "ev"}
      }
    },
    {
      "data": {"name": "chrob"},
      "mark": {"type": "point", "filled": true, "shape": "circle", "size": 10, "color": "#c040c0", "opacity": 0.65, "clip": true},
      "encoding": {
        "x": {"field": "R", "type": "quantitative", "scale": {"domain": [3, 30], "nice": false, "zero": false}, "axis": null},
        "y": {"field": "v", "type": "quantitative", "scale": {"domain": [50, 400], "nice": false, "zero": false},
          "axis": {"orient": "left", "ticks": false, "labels": false, "title": "c", "titleFontSize": 11, "titleAngle": 270, "titleX": -40.5, "titleY": 207.5, "titleAlign": "left", "titleBaseline": "alphabetic"}}
      }
    },
    {
      "data": {"name": "avg"},
      "mark": {"type": "errorbar", "ticks": true, "size": 7, "thickness": 2, "color": "#00bfbf", "clip": true},
      "encoding": {
        "x": {"field": "R", "type": "quantitative", "scale": {"domain": [3, 30], "nice": false, "zero": false}, "axis": null},
        "y": {"field": "v", "type": "quantitative", "scale": {"domain": [50, 400], "nice": false, "zero": false}, "axis": null},
        "yError": {"field": "ev"}
      }
    },
    {
      "data": {"name": "avg"},
      "mark": {"type": "point", "filled": true, "shape": "square", "size": 45, "color": "#00bfbf", "opacity": 1, "clip": true},
      "encoding": {
        "x": {"field": "R", "type": "quantitative", "scale": {"domain": [3, 30], "nice": false, "zero": false}, "axis": null},
        "y": {"field": "v", "type": "quantitative", "scale": {"domain": [50, 400], "nice": false, "zero": false}, "axis": null}
      }
    }
  ],
  "resolve": {"axis": {"x": "independent", "y": "independent"}},
  "config": {
    "font": "Liberation Serif",
    "view": {"stroke": "#000000", "strokeWidth": 1},
    "axis": {
      "grid": false, "domain": false,
      "labelFont": "Liberation Serif", "labelFontSize": 15, "labelColor": "#000000", "labelFlush": false, "labelOverlap": false,
      "tickColor": "#000000", "tickWidth": 1,
      "titleFont": "Liberation Serif", "titleFontSize": 17, "titleFontWeight": "normal", "titleColor": "#000000"
    },
    "legend": {
      "orient": "top-right", "offset": 8, "padding": 6,
      "fillColor": "rgba(255,255,255,0.8)", "strokeColor": "#cccccc", "cornerRadius": 3,
      "labelFont": "Liberation Serif", "labelFontSize": 15, "labelColor": "#000000", "labelLimit": 300,
      "symbolSize": 144, "symbolOffset": 9.5, "labelOffset": 19, "rowPadding": 3.1
    }
  }
}
